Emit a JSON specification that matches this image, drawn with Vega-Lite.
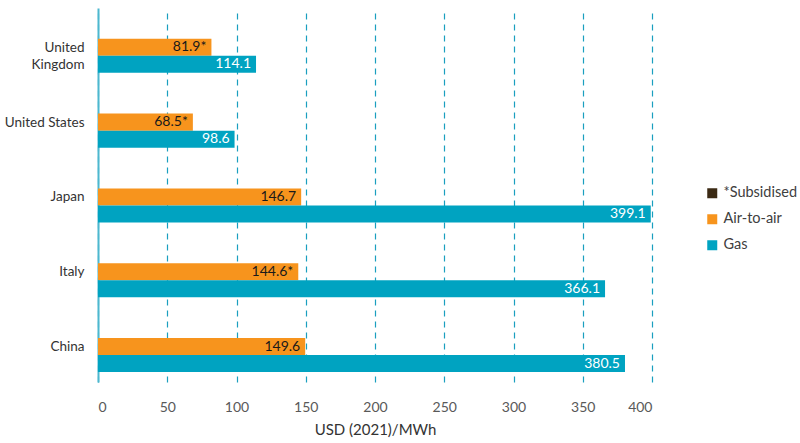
{
  "$schema": "https://vega.github.io/schema/vega-lite/v6.json",
  "width": 554,
  "height": 374,
  "autosize": {"type": "none"},
  "padding": {"left": 98, "top": 8, "right": 148, "bottom": 61},
  "background": "white",
  "config": {"view": {"stroke": null}, "font": "Lato"},
  "data": {"values": [
    {"country": "United Kingdom", "series": "Air-to-air", "value": 81.9, "label": "81.9*"},
    {"country": "United Kingdom", "series": "Gas", "value": 114.1, "label": "114.1"},
    {"country": "United States", "series": "Air-to-air", "value": 68.5, "label": "68.5*"},
    {"country": "United States", "series": "Gas", "value": 98.6, "label": "98.6"},
    {"country": "Japan", "series": "Air-to-air", "value": 146.7, "label": "146.7"},
    {"country": "Japan", "series": "Gas", "value": 399.1, "label": "399.1"},
    {"country": "Italy", "series": "Air-to-air", "value": 144.6, "label": "144.6*"},
    {"country": "Italy", "series": "Gas", "value": 366.1, "label": "366.1"},
    {"country": "China", "series": "Air-to-air", "value": 149.6, "label": "149.6"},
    {"country": "China", "series": "Gas", "value": 380.5, "label": "380.5"}
  ]},
  "encoding": {
    "y": {
      "field": "country", "type": "nominal",
      "sort": ["United Kingdom", "United States", "Japan", "Italy", "China"],
      "scale": {"paddingInner": 0.545, "paddingOuter": 0.2725, "align": 0.756},
      "axis": {
        "title": null, "ticks": false, "grid": false,
        "domainColor": "#4db8cf", "domainWidth": 2,
        "labelFont": "Lato", "labelFontSize": 13.5, "labelColor": "#333333",
        "labelPadding": 14, "labelOffset": -8,
        "labelExpr": "datum.value == 'United Kingdom' ? ['United', 'Kingdom'] : datum.value",
        "labelLineHeight": 17
      }
    },
    "yOffset": {
      "field": "series", "type": "nominal",
      "sort": ["Air-to-air", "Gas"],
      "scale": {"paddingInner": 0, "paddingOuter": 0}
    },
    "x": {
      "field": "value", "type": "quantitative",
      "scale": {"domain": [0, 400], "nice": false},
      "axis": {
        "title": "USD (2021)/MWh", "titleFont": "Lato", "titleFontSize": 15,
        "titleFontWeight": "normal", "titleColor": "#333333", "titlePadding": 8,
        "values": [0, 50, 100, 150, 200, 250, 300, 350, 400],
        "domain": false, "ticks": false,
        "grid": true, "gridColor": "#1a9fbf", "gridDash": [6, 5], "gridWidth": 1.2,
        "labelFont": "Lato", "labelFontSize": 14, "labelColor": "#595959",
        "labelPadding": 18
      }
    }
  },
  "layer": [
    {
      "mark": {"type": "bar"},
      "encoding": {
        "color": {
          "field": "series", "type": "nominal",
          "scale": {"domain": ["*Subsidised", "Air-to-air", "Gas"], "range": ["#3b2a14", "#f7941d", "#00a3c1"]},
          "legend": {
            "title": null, "orient": "none", "legendX": 607, "legendY": 178,
            "symbolType": "square", "symbolSize": 100, "symbolStrokeWidth": 0,
            "labelFont": "Lato", "labelFontSize": 14.5, "labelColor": "#404040",
            "rowPadding": 11, "labelOffset": 4
          }
        }
      }
    },
    {
      "mark": {"type": "text", "align": "right", "dx": -5, "font": "Lato", "fontSize": 14, "baseline": "middle"},
      "encoding": {
        "text": {"field": "label"},
        "color": {
          "condition": {"test": "datum.series == 'Gas'", "value": "white"},
          "value": "#1a1a1a"
        }
      }
    }
  ]
}
